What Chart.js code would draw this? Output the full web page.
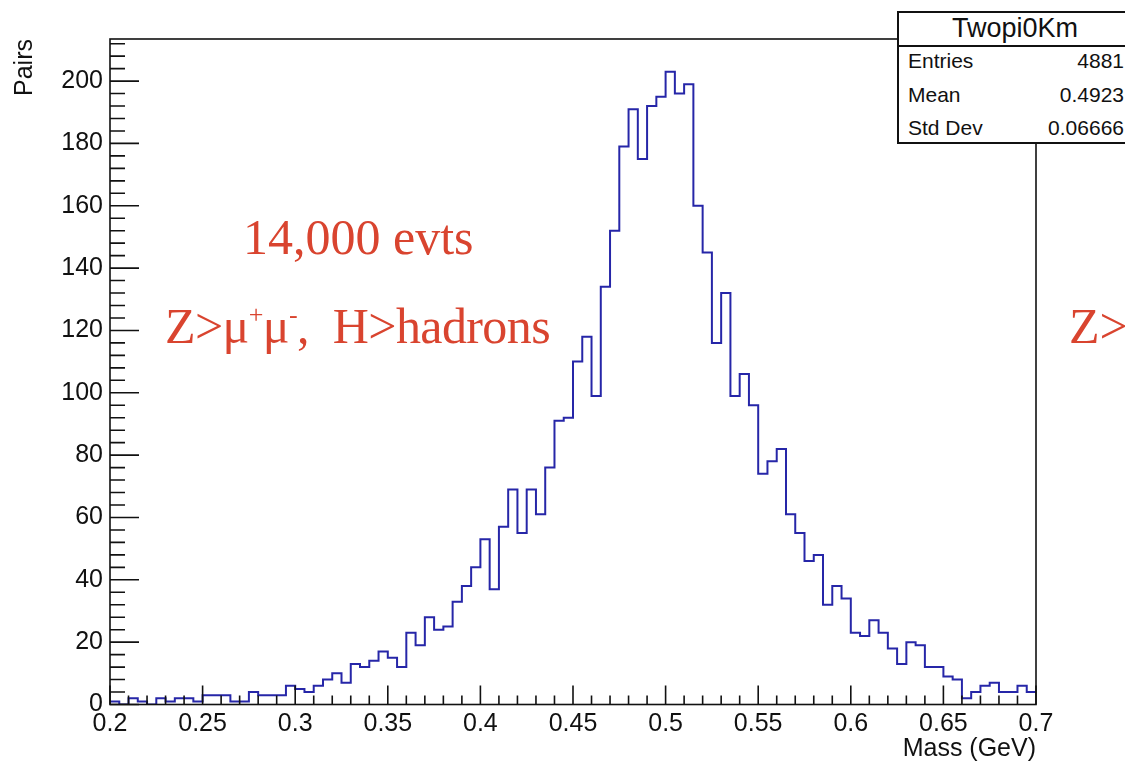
<!DOCTYPE html>
<html>
<head>
<meta charset="utf-8">
<script src="https://cdn.jsdelivr.net/npm/chart.js@4.4.1/dist/chart.umd.min.js"></script>
<style>
  html, body { margin: 0; padding: 0; background: #fff; overflow: hidden; }
  #wrap { position: relative; width: 1125px; height: 762px; overflow: hidden; }
  #theChart { position: absolute; left: 0; top: 0; }
  .stats {
    position: absolute; left: 897px; top: 11px; width: 236px; height: 133px;
    box-sizing: border-box; border: 2px solid #111; background: #fff;
    font-family: "Liberation Sans", Arial, sans-serif; color: #111;
  }
  .stats .head {
    position: absolute; left: 0; right: 0; top: 0; height: 32px;
    border-bottom: 2px solid #111; text-align: center;
    font-size: 27px; line-height: 30px;
  }
  .stats .row { position: absolute; left: 9px; right: 7px; height: 24px; font-size: 21px; line-height: 24px; }
  .stats .row span:last-child { position: absolute; right: 0; }
  .note {
    position: absolute; white-space: nowrap;
    font-family: "Liberation Serif", "Times New Roman", serif;
    font-size: 50px; line-height: 50px; color: #d9442f;
  }
  .note sup { font-size: 26px; vertical-align: 20px; line-height: 0; }
</style>
</head>
<body>
<div id="wrap">
  <canvas id="theChart" width="1125" height="762"></canvas>
  <div class="stats" id="stats"></div>
  <div class="note" style="left:243px; top:212px;">14,000 evts</div>
  <div class="note" style="left:165px; top:301px; letter-spacing:-0.6px;">Z&gt;μ<sup>+</sup>μ<sup>-</sup>,&nbsp; H&gt;hadrons</div>
  <div class="note" style="left:1069px; top:301px;">Z&gt;</div>
</div>
<script>
"use strict";

// Histogram binning (0.2 - 0.7 GeV, 100 bins)
const xMin = 0.2;
const xMax = 0.7;
const binWidth = 0.005;

// Counts per bin
const counts = [
  1, 0, 2, 1, 0, 2, 1, 2, 2, 1,
  3, 3, 3, 1, 1, 4, 3, 3, 3, 6,
  5, 4, 6, 8, 10, 7, 13, 12, 14, 17,
  15, 12, 23, 19, 28, 24, 25, 33, 38, 44,
  53, 37, 57, 69, 55, 69, 61, 76, 91, 92,
  110, 118, 99, 134, 152, 179, 191, 175, 192, 195,
  203, 196, 199, 160, 145, 116, 132, 99, 106, 96,
  74, 78, 82, 61, 55, 46, 48, 32, 38, 34,
  23, 22, 27, 23, 18, 13, 20, 19, 12, 12,
  9, 8, 2, 4, 6, 7, 4, 4, 6, 4
];

const xTickLabels = ["0.2", "0.25", "0.3", "0.35", "0.4", "0.45", "0.5", "0.55", "0.6", "0.65", "0.7"];
const yTickLabels = ["0", "20", "40", "60", "80", "100", "120", "140", "160", "180", "200"];
const yMax = 213.5;

const statsTitle = "Twopi0Km";
const statsLabels = ["Entries", "Mean", "Std Dev"];
const statsValues = ["4881", "0.4923", "0.06666"];

// Stats box
const statsDom = document.getElementById("stats");
let html = `<div class="head">${statsTitle}</div>`;
const rowTops = [36, 70, 103];
statsLabels.forEach((lab, i) => {
  html += `<div class="row" style="top:${rowTops[i]}px"><span>${lab}</span><span>${statsValues[i]}</span></div>`;
});
statsDom.innerHTML = html;

// Step points: each bin starts at its low edge, last point closes at xMax
const points = counts.map((c, i) => ({ x: xMin + i * binWidth, y: c }));
points.push({ x: xMax, y: counts[counts.length - 1] });

const fontFamily = "'Liberation Sans', Arial, sans-serif";

// ROOT-like frame with inward ticks
const rootFrame = {
  id: "rootFrame",
  afterDatasetsDraw(chart) {
    const { ctx, chartArea: a, scales } = chart;
    const x = scales.x;
    const y = scales.y;
    ctx.save();
    ctx.strokeStyle = "#111";
    ctx.lineWidth = 1.6;
    ctx.strokeRect(a.left, a.top, a.right - a.left, a.bottom - a.top);
    ctx.beginPath();
    for (let v = 0; v <= yMax; v += 4) {
      const py = y.getPixelForValue(v);
      const len = v % 20 === 0 ? 29 : 15;
      ctx.moveTo(a.left, py);
      ctx.lineTo(a.left + len, py);
    }
    for (let i = 0; i <= 50; i++) {
      const px = x.getPixelForValue(xMin + i * 0.01);
      const len = i % 5 === 0 ? 19 : 9;
      ctx.moveTo(px, a.bottom);
      ctx.lineTo(px, a.bottom - len);
    }
    ctx.stroke();
    ctx.restore();
  }
};

new Chart(document.getElementById("theChart"), {
  type: "line",
  data: {
    datasets: [{
      data: points,
      stepped: "before",
      borderColor: "#2626a8",
      borderWidth: 2,
      pointRadius: 0,
      fill: false
    }]
  },
  options: {
    responsive: false,
    animation: false,
    layout: { padding: { left: 0, top: 39, right: 89, bottom: 0 } },
    plugins: {
      legend: { display: false },
      tooltip: { enabled: false }
    },
    scales: {
      x: {
        type: "linear",
        min: xMin,
        max: xMax,
        afterBuildTicks: (scale) => {
          scale.ticks = xTickLabels.map((t) => ({ value: parseFloat(t) }));
        },
        afterFit: (scale) => { scale.height = 57.5; },
        grid: { display: false, drawTicks: false },
        border: { display: false },
        ticks: {
          padding: 5,
          maxRotation: 0,
          autoSkip: false,
          color: "#111",
          font: { family: fontFamily, size: 25 },
          callback: (v, i) => xTickLabels[i]
        },
        title: {
          display: true,
          text: "Mass (GeV)",
          align: "end",
          color: "#111",
          font: { family: fontFamily, size: 25 },
          padding: { top: 0, bottom: -2 }
        }
      },
      y: {
        type: "linear",
        min: 0,
        max: yMax,
        afterBuildTicks: (scale) => {
          scale.ticks = yTickLabels.map((t) => ({ value: parseFloat(t) }));
        },
        afterFit: (scale) => { scale.width = 110; },
        grid: { display: false, drawTicks: false },
        border: { display: false },
        ticks: {
          padding: 7,
          autoSkip: false,
          color: "#111",
          font: { family: fontFamily, size: 25 },
          callback: (v, i) => yTickLabels[i]
        },
        title: {
          display: true,
          text: "Pairs",
          align: "end",
          color: "#111",
          font: { family: fontFamily, size: 25 },
          padding: { top: 10, bottom: 0 }
        }
      }
    }
  },
  plugins: [rootFrame]
});
</script>
</body>
</html>
